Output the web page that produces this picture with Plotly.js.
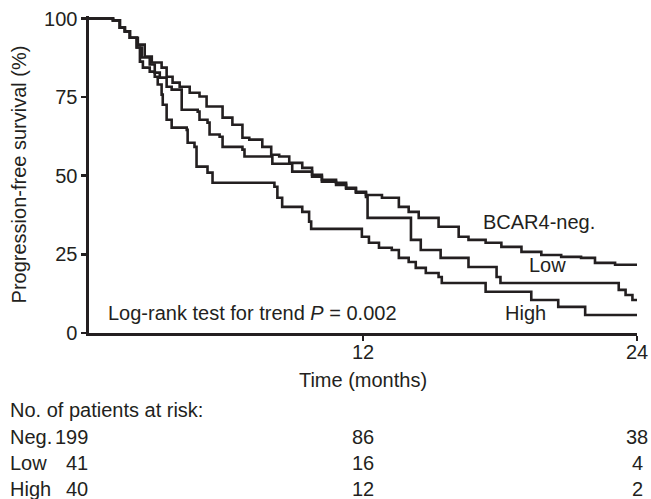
<!DOCTYPE html>
<html>
<head>
<meta charset="utf-8">
<script src="https://cdn.plot.ly/plotly-3.0.1.min.js"></script>
<style>html,body{margin:0;padding:0;background:#fff;}#chart{width:651px;height:499px;}</style>
</head>
<body>
<div id="chart"></div>
<script>
// Kaplan-Meier step data (months, % progression-free)
const negTime = [0, 1.05, 1.35, 1.57, 1.79, 2.14, 2.44, 2.75, 3.18, 3.40, 3.66, 3.97, 4.41, 4.84, 5.15, 5.85, 6.28, 6.72, 7.02, 7.59, 7.98, 8.33, 8.77, 9.34, 9.77, 10.2, 10.82, 11.26, 11.69, 12.13, 12.83, 13.57, 14.0, 14.44, 15.31, 16.19, 16.62, 17.37, 18.06, 18.94, 19.81, 20.68, 21.55, 22.16, 23.04, 24];
const negSurv = [100, 99.4, 97.1, 95.9, 93.9, 91.7, 87.9, 86.0, 84.4, 81.5, 79.6, 78.3, 76.4, 75.2, 72.0, 68.5, 66.2, 62.1, 61.5, 59.2, 56.7, 56.1, 54.1, 52.5, 50.3, 48.7, 47.8, 46.2, 44.9, 43.9, 43.0, 40.1, 38.5, 36.6, 33.8, 30.6, 29.6, 28.7, 27.4, 25.8, 24.8, 24.2, 23.9, 22.3, 21.7, 21.7];

const lowTime = [0, 1.05, 1.35, 1.57, 1.79, 2.09, 2.31, 2.66, 2.88, 3.10, 3.40, 3.62, 4.06, 4.76, 4.84, 5.19, 5.28, 5.72, 5.85, 6.72, 6.81, 8.03, 8.90, 9.77, 10.2, 10.82, 11.26, 11.69, 12.13, 12.2, 14.1, 14.53, 15.4, 16.62, 17.85, 18.02, 23.2, 23.5, 23.8, 24];
const lowSurv = [100, 99.4, 97.1, 95.9, 93.9, 90.8, 87.6, 85.4, 82.8, 81.2, 78.3, 77.4, 71.0, 70.4, 67.8, 66.9, 63.1, 62.4, 59.2, 58.3, 56.1, 53.8, 51.3, 49.7, 48.1, 47.1, 45.9, 44.6, 43.3, 36.6, 29.6, 26.4, 23.9, 21.0, 17.8, 15.9, 13.7, 12.1, 10.5, 10.5];

const highTime = [0, 1.05, 1.35, 1.57, 1.79, 2.09, 2.23, 2.36, 2.66, 2.88, 3.01, 3.18, 3.23, 3.40, 3.62, 4.28, 4.32, 4.62, 4.71, 5.19, 5.41, 8.12, 8.25, 8.46, 9.34, 9.64, 9.73, 11.95, 12.26, 12.70, 13.26, 13.57, 14.0, 14.31, 14.75, 15.31, 15.45, 17.37, 19.37, 20.55, 21.73, 24];
const highSurv = [100, 99.4, 97.1, 95.9, 93.9, 90.8, 86.3, 84.4, 83.1, 81.5, 79.0, 75.8, 72.6, 67.8, 65.3, 64.6, 60.5, 59.2, 52.9, 51.0, 47.8, 46.5, 43.0, 40.1, 38.5, 35.4, 33.1, 30.6, 28.7, 27.1, 26.4, 23.9, 22.6, 20.7, 19.1, 17.8, 15.9, 13.1, 10.5, 8.3, 5.7, 5.7];

const xTickVals = [12, 24];
const xTickText = ['12', '24'];
const yTickVals = [0, 25, 50, 75, 100];
const yTickText = ['0', '25', '50', '75', '100'];

// Patients at risk at 0, 12, 24 months
const riskTimes = [0, 12, 24];
const riskGroups = ['Neg.', 'Low', 'High'];
const riskNeg = [199, 86, 38];
const riskLow = [41, 16, 4];
const riskHigh = [40, 12, 2];

const curveLabels = ['BCAR4-neg.', 'Low', 'High'];
const curveLabelX = [19.7, 20.1, 19.1];
const curveLabelY = [35.2, 21.7, 6.4];

const ink = '#231f20';
const fontFam = '"Liberation Sans", Arial, Helvetica, sans-serif';
const fs = 20;

function kmTrace(t, s) {
  return { x: t, y: s, type: 'scatter', mode: 'lines', line: { shape: 'hv', color: ink, width: 2.6 }, hoverinfo: 'skip', showlegend: false };
}
const data = [kmTrace(negTime, negSurv), kmTrace(lowTime, lowSurv), kmTrace(highTime, highSurv)];

const annotations = [];
curveLabels.forEach((txt, i) => {
  annotations.push({ x: curveLabelX[i], y: curveLabelY[i], xref: 'x', yref: 'y', text: txt, showarrow: false, xanchor: 'center', yanchor: 'middle', font: { family: fontFam, size: fs, color: ink } });
});
annotations.push({ x: 0.75, y: 6.4, xref: 'x', yref: 'y', text: 'Log-rank test for trend <i>P</i> = 0.002', showarrow: false, xanchor: 'left', yanchor: 'middle', font: { family: fontFam, size: fs, color: ink } });

// at-risk table (paper y computed from plot area 16..333 px)
const rowPx = [437, 463, 489];
const toPaperY = py => (333 - py) / 317;
const toPaperX = px => (px - 89) / 548;
annotations.push({ x: toPaperX(8), y: toPaperY(410), xref: 'paper', yref: 'paper', text: 'No. of patients at risk:', showarrow: false, xanchor: 'left', yanchor: 'middle', font: { family: fontFam, size: fs, color: ink } });
const riskRows = [riskNeg, riskLow, riskHigh];
riskGroups.forEach((g, i) => {
  const yp = toPaperY(rowPx[i]);
  annotations.push({ x: toPaperX(8), y: yp, xref: 'paper', yref: 'paper', text: g, showarrow: false, xanchor: 'left', yanchor: 'middle', font: { family: fontFam, size: fs, color: ink } });
  annotations.push({ x: toPaperX(90), y: yp, xref: 'paper', yref: 'paper', text: String(riskRows[i][0]), showarrow: false, xanchor: 'right', yanchor: 'middle', font: { family: fontFam, size: fs, color: ink } });
  annotations.push({ x: riskTimes[1], y: yp, xref: 'x', yref: 'paper', text: String(riskRows[i][1]), showarrow: false, xanchor: 'center', yanchor: 'middle', font: { family: fontFam, size: fs, color: ink } });
  annotations.push({ x: riskTimes[2], y: yp, xref: 'x', yref: 'paper', text: String(riskRows[i][2]), showarrow: false, xanchor: 'center', yanchor: 'middle', font: { family: fontFam, size: fs, color: ink } });
});

const layout = {
  width: 651, height: 499,
  margin: { l: 89, r: 14, t: 16, b: 166 },
  paper_bgcolor: '#fff', plot_bgcolor: '#fff',
  font: { family: fontFam, size: fs, color: ink },
  xaxis: {
    range: [0, 24], showgrid: false, zeroline: false, showline: true, linecolor: ink, linewidth: 2.6,
    ticks: 'outside', ticklen: 5, tickwidth: 2.6, tickcolor: ink, ticklabelstandoff: -6,
    tickvals: xTickVals, ticktext: xTickText, tickfont: { size: fs, color: ink },
    title: { text: 'Time (months)', font: { size: fs, color: ink }, standoff: 12 }, automargin: false
  },
  yaxis: {
    range: [0, 100.8], showgrid: false, zeroline: false, showline: true, linecolor: ink, linewidth: 2.6,
    ticks: 'outside', ticklen: 5, tickwidth: 2.6, tickcolor: ink,
    tickvals: yTickVals, ticktext: yTickText, tickfont: { size: fs, color: ink },
    title: { text: 'Progression-free survival (%)', font: { size: fs, color: ink }, standoff: 12 }, automargin: false
  },
  annotations: annotations
};
Plotly.newPlot('chart', data, layout, { displayModeBar: false, staticPlot: true });
</script>
</body>
</html>
